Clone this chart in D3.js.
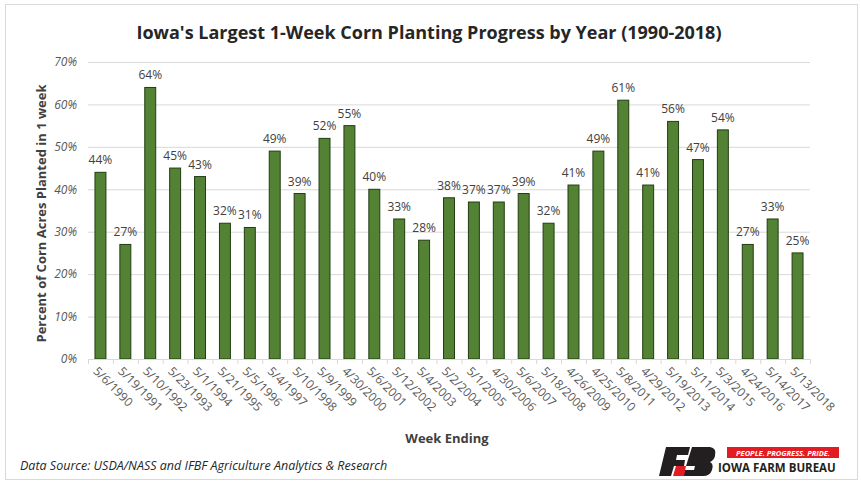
<!DOCTYPE html>
<html><head><meta charset="utf-8">
<script src="https://cdn.jsdelivr.net/npm/d3@7"></script>
<style>body{margin:0;background:#fff;} text{font-family:"Open Sans","Noto Sans",sans-serif;}</style>
</head><body>
<svg id="c" width="861" height="485"></svg>
<script>
const categories = ["5/6/1990","5/19/1991","5/10/1992","5/23/1993","5/1/1994","5/21/1995","5/5/1996","5/4/1997","5/10/1998","5/9/1999","4/30/2000","5/6/2001","5/12/2002","5/4/2003","5/2/2004","5/1/2005","4/30/2006","5/6/2007","5/18/2008","4/26/2009","4/25/2010","5/8/2011","4/29/2012","5/19/2013","5/11/2014","5/3/2015","4/24/2016","5/14/2017","5/13/2018"];
const values = [44,27,64,45,43,32,31,49,39,52,55,40,33,28,38,37,37,39,32,41,49,61,41,56,47,54,27,33,25];
const yTicks = [0,10,20,30,40,50,60,70];

const svg = d3.select("#c");
svg.append("rect").attr("x",5.5).attr("y",4.5).attr("width",852).attr("height",475)
  .attr("fill","#fff").attr("stroke","#d9d9d9");

const pL=88, pR=810, pT=62, pB=359;
const x = d3.scaleBand().domain(categories).range([pL,pR]).paddingInner(0.56).paddingOuter(0.28);
const y = d3.scaleLinear().domain([0,70]).range([pB,pT]);

// gridlines
svg.append("g").selectAll("line").data(yTicks.filter(d=>d>0)).join("line")
  .attr("x1",pL).attr("x2",pR).attr("y1",d=>y(d)+0.5).attr("y2",d=>y(d)+0.5)
  .attr("stroke","#d9d9d9").attr("stroke-width",1);

// y axis labels
const ya = svg.append("g").attr("transform",`translate(${pL},0)`)
  .call(d3.axisLeft(y).tickValues(yTicks).tickFormat(d=>d+"%").tickSize(0).tickPadding(11));
ya.select(".domain").remove();
ya.selectAll("text").attr("font-family","'Open Sans',sans-serif").attr("font-style","italic")
  .attr("font-size",12).attr("fill","#595959");

// bars
svg.append("g").selectAll("rect").data(values).join("rect")
  .attr("x",(d,i)=>x(categories[i])).attr("width",x.bandwidth())
  .attr("y",d=>y(d)).attr("height",d=>y(0)-y(d))
  .attr("fill","#548235").attr("stroke","#203d10").attr("stroke-width",1);

// labels
svg.append("g").selectAll("text").data(values).join("text")
  .attr("x",(d,i)=>x(categories[i])+x.bandwidth()/2).attr("y",d=>y(d)-8)
  .attr("text-anchor","middle").attr("font-size",12).attr("fill","#404040").text(d=>d+"%");

// x axis
const step = x.step();
svg.append("line").attr("x1",pL).attr("x2",pR).attr("y1",pB+0.5).attr("y2",pB+0.5).attr("stroke","#d9d9d9");
const bounds = d3.range(categories.length+1).map(i=>pL+i*step);
svg.append("g").selectAll("line").data(bounds).join("line")
  .attr("x1",d=>d+0.5).attr("x2",d=>d+0.5).attr("y1",pB).attr("y2",pB+5).attr("stroke","#d9d9d9");
svg.append("g").selectAll("text").data(categories).join("text")
  .attr("transform",d=>`translate(${x(d)+x.bandwidth()/2-5},${pB+10}) rotate(45)`)
  .attr("font-size",12).attr("fill","#595959").attr("dy","0.35em").text(d=>d);

// titles
svg.append("text").attr("x",429).attr("y",39).attr("text-anchor","middle")
  .attr("font-size",18).attr("font-weight","bold").attr("fill","#262626")
  .text("Iowa's Largest 1-Week Corn Planting Progress by Year (1990-2018)");
svg.append("text").attr("transform",`translate(46,${(pT+pB)/2+3}) rotate(-90)`)
  .attr("text-anchor","middle").attr("font-size",13).attr("font-weight","bold").attr("fill","#404040")
  .text("Percent of Corn Acres Planted in 1 week");
svg.append("text").attr("x",447).attr("y",443).attr("text-anchor","middle")
  .attr("font-size",13).attr("font-weight","bold").attr("fill","#404040").text("Week Ending");
svg.append("text").attr("x",20).attr("y",470).attr("font-size",12.5).attr("font-style","italic")
  .attr("fill","#262626").text("Data Source: USDA/NASS and IFBF Agriculture Analytics & Research");

// logo
const lg = svg.append("g");
lg.append("path").attr("d","M666,447 L690,447 L688,455 L677,455 L676,460 L685,460 L684,466 L674,466 L671,476 L659,476 Z").attr("fill","#231f20");
lg.append("path").attr("d","M692,447 L710,447 Q717,448 715,456 Q714,460 710,462 Q714,464 712,470 Q710,476 703,476 L683,476 L685,470 L694,470 L695,466 L686,466 Z").attr("fill","#231f20");
lg.append("path").attr("d","M676,466 L686,466 L684,476 L673,476 Z").attr("fill","#e31b23");
lg.append("rect").attr("x",727).attr("y",447).attr("width",112).attr("height",11).attr("fill","#e31b23");
lg.append("text").attr("x",783).attr("y",455.5).attr("text-anchor","middle").attr("font-size",7.5)
  .attr("font-weight","bold").attr("font-style","italic").attr("fill","#fff").text("PEOPLE. PROGRESS. PRIDE.");
lg.append("text").attr("x",718).attr("y",472).attr("font-size",11.5).attr("font-weight","bold")
  .attr("fill","#231f20").text("IOWA FARM BUREAU");
</script>
</body></html>
